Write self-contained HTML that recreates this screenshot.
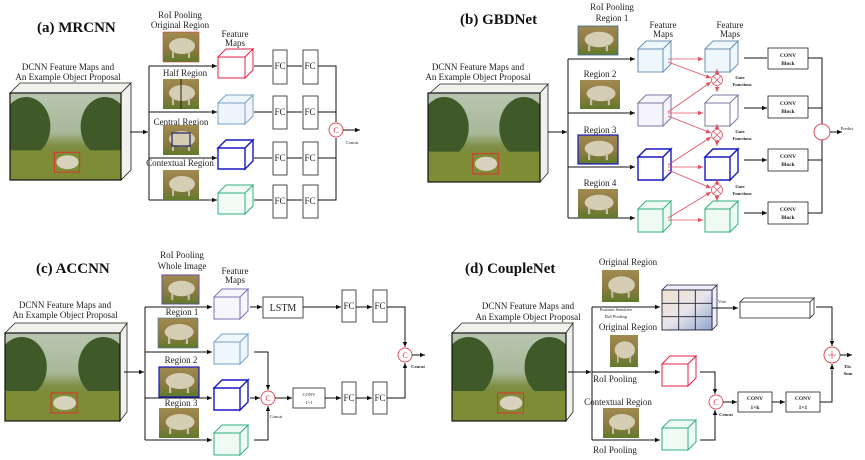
<!DOCTYPE html>
<html><head><meta charset="utf-8"><style>
html,body{margin:0;padding:0;background:#fff;}
svg{display:block;font-family:"Liberation Serif",serif;}
.t{font-size:9px;fill:#222;text-anchor:middle}
.h{font-size:15px;font-weight:bold;fill:#111}
.s{font-size:4.5px;fill:#222;text-anchor:middle}
.b{font-size:5.5px;font-weight:bold;fill:#222;text-anchor:middle}
.l{stroke:#111;stroke-width:1;fill:none}
.r{stroke:#e05060;stroke-width:1;fill:none}
.fc{fill:#fff;stroke:#222;stroke-width:0.8}
</style></head><body>
<svg width="865" height="460" viewBox="0 0 865 460" xmlns="http://www.w3.org/2000/svg">
<defs>
<marker id="a" markerWidth="6" markerHeight="6" refX="5" refY="3" orient="auto" markerUnits="userSpaceOnUse"><path d="M0,0.8 L5,3 L0,5.2Z" fill="#111"/></marker>
<marker id="ar" markerWidth="6" markerHeight="6" refX="5" refY="3" orient="auto" markerUnits="userSpaceOnUse"><path d="M0,0.8 L5,3 L0,5.2Z" fill="#e05060"/></marker>
<linearGradient id="sky" x1="0" y1="0" x2="0" y2="1"><stop offset="0" stop-color="#b9c6b0"/><stop offset="0.45" stop-color="#a8b89a"/><stop offset="0.6" stop-color="#7f8f45"/><stop offset="1" stop-color="#6e7a30"/></linearGradient>
<linearGradient id="ph" x1="0" y1="0" x2="0" y2="1"><stop offset="0" stop-color="#a08a50"/><stop offset="0.6" stop-color="#8a7a40"/><stop offset="1" stop-color="#5e7a2a"/></linearGradient>
<symbol id="scene" viewBox="0 0 110 88" preserveAspectRatio="none">
<rect width="110" height="88" fill="url(#sky)"/>
<ellipse cx="16" cy="34" rx="24" ry="30" fill="#3f5a28"/>
<ellipse cx="94" cy="34" rx="24" ry="30" fill="#3f5a28"/>
<rect x="0" y="58" width="110" height="30" fill="#7d8c35"/>
<ellipse cx="57" cy="70" rx="11" ry="7" fill="#d8d2bf"/>
<rect x="44" y="60" width="25" height="20" fill="none" stroke="#e03030" stroke-width="1"/>
</symbol>
<symbol id="sh" viewBox="0 0 36 30" preserveAspectRatio="none">
<rect width="36" height="30" fill="url(#ph)"/>
<ellipse cx="19" cy="14" rx="13" ry="8" fill="#d6ceb4"/>
<rect x="9" y="19" width="2" height="7" fill="#c8c0a8"/><rect x="25" y="19" width="2" height="7" fill="#c8c0a8"/>
</symbol>
</defs>

<!-- ============ (a) MRCNN ============ -->
<text x="37" y="32" class="h">(a) MRCNN</text>
<text x="68" y="70" class="t">DCNN Feature Maps and</text>
<text x="68" y="80" class="t">An Example Object Proposal</text>
<path d="M10,93 L20,83 L131,83 L121,93Z M121,93 L131,83 L131,170 L121,180Z" fill="#f0f0ec" stroke="#222" stroke-width="0.8"/>
<use href="#scene" x="10" y="93" width="111" height="87"/>
<rect x="10" y="93" width="111" height="87" fill="none" stroke="#111" stroke-width="1.2"/>
<path class="l" d="M130,132 L148,132" marker-end="url(#a)"/>
<path class="l" d="M149,66 L149,200"/>
<path class="l" d="M149,66 L217,66" marker-end="url(#a)"/>
<path class="l" d="M149,112 L217,112" marker-end="url(#a)"/>
<path class="l" d="M149,158 L217,158" marker-end="url(#a)"/>
<path class="l" d="M149,200 L217,200" marker-end="url(#a)"/>
<text x="180" y="18" class="t">RoI Pooling</text>
<text x="180" y="28" class="t">Original Region</text>
<use href="#sh" x="163" y="32" width="36" height="30"/><rect x="163" y="32" width="36" height="30" fill="none" stroke="#c44" stroke-width="0.6"/>
<text x="185" y="76" class="t">Half Region</text>
<use href="#sh" x="163" y="79" width="36" height="30"/><line x1="181" y1="79" x2="181" y2="109" stroke="#222"/>
<text x="181" y="125" class="t">Central Region</text>
<use href="#sh" x="163" y="125" width="36" height="30"/><rect x="172" y="133" width="18" height="13" fill="none" stroke="#226" stroke-width="1.2"/>
<text x="180" y="166" class="t">Contextual Region</text>
<use href="#sh" x="163" y="170" width="36" height="30"/>
<text x="235" y="37" class="t">Feature</text><text x="235" y="46" class="t">Maps</text>
<g stroke-width="1">
<path d="M218,57 h27 v21 h-27Z M218,57 l8,-8 h27 l-8,8Z M245,57 l8,-8 v21 l-8,8Z" fill="#fff" stroke="#e02040"/>
<path d="M218,103 h27 v21 h-27Z M218,103 l8,-8 h27 l-8,8Z M245,103 l8,-8 v21 l-8,8Z" fill="#eef6fb" stroke="#7aa0c8"/>
<path d="M218,148 h27 v21 h-27Z M218,148 l8,-8 h27 l-8,8Z M245,148 l8,-8 v21 l-8,8Z" fill="#fff" stroke="#1818c0" stroke-width="1.4"/>
<path d="M218,193 h27 v21 h-27Z M218,193 l8,-8 h27 l-8,8Z M245,193 l8,-8 v21 l-8,8Z" fill="#f2fbf6" stroke="#30b080"/>
</g>
<g>
<rect class="fc" x="273" y="50" width="14" height="34"/><rect class="fc" x="303" y="50" width="15" height="34"/>
<rect class="fc" x="273" y="96" width="14" height="33"/><rect class="fc" x="303" y="96" width="15" height="33"/>
<rect class="fc" x="273" y="142" width="14" height="33"/><rect class="fc" x="303" y="142" width="15" height="33"/>
<rect class="fc" x="273" y="185" width="14" height="33"/><rect class="fc" x="303" y="185" width="15" height="33"/>
<text x="280" y="69" class="t">FC</text><text x="310" y="69" class="t">FC</text>
<text x="280" y="115" class="t">FC</text><text x="310" y="115" class="t">FC</text>
<text x="280" y="161" class="t">FC</text><text x="310" y="161" class="t">FC</text>
<text x="280" y="204" class="t">FC</text><text x="310" y="204" class="t">FC</text>
</g>
<path class="l" d="M254,66 L272,66 M287,66 L302,66 M254,112 L272,112 M287,112 L302,112 M254,158 L272,158 M287,158 L302,158 M254,200 L272,200 M287,200 L302,200"/>
<path class="l" d="M318,66 H336 V122 M318,112 H336 M318,158 H336 V138 M318,200 H336 V138" />
<circle cx="336" cy="130" r="7" fill="#fff" stroke="#e05060"/><text x="336" y="133" class="t" style="font-size:8px;fill:#d03040">C</text>
<path class="l" d="M343,130 L360,130" marker-end="url(#a)"/>
<text x="352" y="144" class="s">Concat</text>

<!-- ============ (b) GBDNet ============ -->
<text x="460" y="24" class="h">(b) GBDNet</text>
<text x="478" y="70" class="t">DCNN Feature Maps and</text>
<text x="478" y="80" class="t">An Example Object Proposal</text>
<path d="M430,93 L440,84 L548,84 L540,93Z M540,93 L548,84 L548,173 L540,182Z" fill="#f0f0ec" stroke="#222" stroke-width="0.8"/>
<use href="#scene" x="428" y="93" width="112" height="89"/>
<rect x="428" y="93" width="112" height="89" fill="none" stroke="#111" stroke-width="1.2"/>
<path class="l" d="M548,132 L567,132" marker-end="url(#a)"/>
<path class="l" d="M568,59 L568,218"/>
<path class="l" d="M568,59 L635,59" marker-end="url(#a)"/>
<path class="l" d="M568,113 L635,113" marker-end="url(#a)"/>
<path class="l" d="M568,167 L635,167" marker-end="url(#a)"/>
<path class="l" d="M568,218 L635,218" marker-end="url(#a)"/>
<text x="612" y="10" class="t">RoI Pooling</text>
<text x="612" y="21" class="t">Region 1</text>
<use href="#sh" x="578" y="26" width="40" height="29"/><rect x="578" y="26" width="40" height="29" fill="none" stroke="#3a6a9a" stroke-width="0.8"/>
<text x="600" y="77" class="t">Region 2</text>
<use href="#sh" x="580" y="80" width="40" height="29"/>
<text x="600" y="133" class="t">Region 3</text>
<use href="#sh" x="578" y="135" width="40" height="29"/><rect x="578" y="135" width="40" height="29" fill="none" stroke="#1818c0" stroke-width="1.2"/>
<text x="600" y="186" class="t">Region 4</text>
<use href="#sh" x="578" y="189" width="40" height="29"/>
<text x="663" y="28" class="t">Feature</text><text x="663" y="37" class="t">Maps</text>
<text x="730" y="28" class="t">Feature</text><text x="730" y="37" class="t">Maps</text>
<g>
<path d="M638,49 h25 v23 h-25Z M638,49 l8,-8 h25 l-8,8Z M663,49 l8,-8 v23 l-8,8Z" fill="#eef7fb" stroke="#6a90b0"/>
<path d="M638,103 h25 v23 h-25Z M638,103 l8,-8 h25 l-8,8Z M663,103 l8,-8 v23 l-8,8Z" fill="#f6f4fb" stroke="#7a7aa0"/>
<path d="M638,157 h25 v23 h-25Z M638,157 l8,-8 h25 l-8,8Z M663,157 l8,-8 v23 l-8,8Z" fill="#fff" stroke="#1818c0" stroke-width="1.4"/>
<path d="M638,209 h25 v23 h-25Z M638,209 l8,-8 h25 l-8,8Z M663,209 l8,-8 v23 l-8,8Z" fill="#f0faf4" stroke="#30b080"/>
<path d="M705,49 h25 v23 h-25Z M705,49 l8,-8 h25 l-8,8Z M730,49 l8,-8 v23 l-8,8Z" fill="#eef7fb" stroke="#6a90b0"/>
<path d="M705,103 h25 v23 h-25Z M705,103 l8,-8 h25 l-8,8Z M730,103 l8,-8 v23 l-8,8Z" fill="#fff" stroke="#7a7aa0"/>
<path d="M705,157 h25 v23 h-25Z M705,157 l8,-8 h25 l-8,8Z M730,157 l8,-8 v23 l-8,8Z" fill="#fff" stroke="#1818c0" stroke-width="1.4"/>
<path d="M705,209 h25 v23 h-25Z M705,209 l8,-8 h25 l-8,8Z M730,209 l8,-8 v23 l-8,8Z" fill="#f0faf4" stroke="#30b080"/>
</g>
<g stroke="#e05060" stroke-width="0.8" fill="none">
<path d="M668,59 L703,59" marker-end="url(#ar)"/><path d="M668,113 L703,113" marker-end="url(#ar)"/>
<path d="M668,167 L703,167" marker-end="url(#ar)"/><path d="M668,220 L703,220" marker-end="url(#ar)"/>
<path d="M668,62 L711,78" marker-end="url(#ar)"/><path d="M668,112 L711,82" marker-end="url(#ar)"/>
<path d="M668,116 L711,133" marker-end="url(#ar)"/><path d="M668,165 L711,137" marker-end="url(#ar)"/>
<path d="M668,170 L711,188" marker-end="url(#ar)"/><path d="M668,218 L711,192" marker-end="url(#ar)"/>
<path d="M717,74 L717,69" marker-end="url(#ar)"/><path d="M717,86 L717,92" marker-end="url(#ar)"/>
<path d="M717,129 L717,124" marker-end="url(#ar)"/><path d="M717,141 L717,146" marker-end="url(#ar)"/>
<path d="M717,184 L717,179" marker-end="url(#ar)"/><path d="M717,196 L717,201" marker-end="url(#ar)"/>
</g>
<g fill="#fff" stroke="#e05060" stroke-width="0.8">
<circle cx="717" cy="80" r="5.5"/><circle cx="717" cy="135" r="5.5"/><circle cx="717" cy="190" r="5.5"/>
</g>
<g stroke="#e05060" stroke-width="0.8">
<path d="M713,76 L721,84 M721,76 L713,84"/><path d="M713,131 L721,139 M721,131 L713,139"/><path d="M713,186 L721,194 M721,186 L713,194"/>
</g>
<text x="740" y="79" class="s" style="font-weight:bold">Gate</text><text x="742" y="86" class="s" style="font-weight:bold">Functions</text>
<text x="740" y="133" class="s" style="font-weight:bold">Gate</text><text x="742" y="140" class="s" style="font-weight:bold">Functions</text>
<text x="740" y="188" class="s" style="font-weight:bold">Gate</text><text x="742" y="195" class="s" style="font-weight:bold">Functions</text>
<g>
<rect class="fc" x="768" y="48" width="40" height="21"/><rect class="fc" x="768" y="96" width="40" height="22"/>
<rect class="fc" x="768" y="149" width="40" height="22"/><rect class="fc" x="768" y="202" width="40" height="22"/>
<text x="788" y="57" class="b">CONV</text><text x="788" y="65" class="b">Block</text>
<text x="788" y="105" class="b">CONV</text><text x="788" y="113" class="b">Block</text>
<text x="788" y="158" class="b">CONV</text><text x="788" y="166" class="b">Block</text>
<text x="788" y="211" class="b">CONV</text><text x="788" y="219" class="b">Block</text>
</g>
<path class="l" d="M744,58 L767,58 M744,108 L767,108 M744,160 L767,160 M744,213 L767,213" marker-end="url(#a)"/>
<path class="l" d="M744,108 L767,108" marker-end="url(#a)"/><path class="l" d="M744,160 L767,160" marker-end="url(#a)"/><path class="l" d="M744,213 L767,213" marker-end="url(#a)"/>
<path class="l" d="M808,58 H822 V124 M808,108 H822 M808,160 H822 V140 M808,213 H822 V140"/>
<circle cx="822" cy="132" r="8" fill="#fff" stroke="#e05060"/>
<path class="l" d="M830,132 L842,132" marker-end="url(#a)"/>
<text x="847" y="130" class="s">Predict</text>

<!-- ============ (c) ACCNN ============ -->
<text x="36" y="273" class="h">(c) ACCNN</text>
<text x="65" y="308" class="t">DCNN Feature Maps and</text>
<text x="65" y="318" class="t">An Example Object Proposal</text>
<path d="M5,333 L15,323 L127,323 L120,333Z M120,333 L127,323 L127,412 L120,421Z" fill="#f0f0ec" stroke="#222" stroke-width="0.8"/>
<use href="#scene" x="5" y="333" width="115" height="88"/>
<rect x="5" y="333" width="115" height="88" fill="none" stroke="#111" stroke-width="1.2"/>
<path class="l" d="M124,372 L144,372" marker-end="url(#a)"/>
<path class="l" d="M145,307 L145,440"/>
<path class="l" d="M145,307 L212,307" marker-end="url(#a)"/>
<path class="l" d="M145,352 L212,352" marker-end="url(#a)"/>
<path class="l" d="M145,398 L212,398" marker-end="url(#a)"/>
<path class="l" d="M145,440 L212,440" marker-end="url(#a)"/>
<text x="182" y="258" class="t">RoI Pooling</text>
<text x="182" y="269" class="t">Whole Image</text>
<use href="#sh" x="162" y="275" width="37" height="29"/><rect x="162" y="275" width="37" height="29" fill="none" stroke="#6a4aa0" stroke-width="1"/>
<text x="182" y="315" class="t">Region 1</text>
<use href="#sh" x="158" y="318" width="40" height="30"/><rect x="158" y="318" width="40" height="30" fill="none" stroke="#4a6aa0" stroke-width="0.6"/>
<text x="181" y="363" class="t">Region 2</text>
<use href="#sh" x="159" y="367" width="40" height="30"/><rect x="159" y="367" width="40" height="30" fill="none" stroke="#1818c0" stroke-width="1.2"/>
<text x="181" y="406" class="t">Region 3</text>
<use href="#sh" x="159" y="408" width="40" height="30"/>
<text x="235" y="274" class="t">Feature</text><text x="235" y="283" class="t">Maps</text>
<g>
<path d="M214,297 h26 v22 h-26Z M214,297 l8,-8 h26 l-8,8Z M240,297 l8,-8 v22 l-8,8Z" fill="#f8f6fd" stroke="#8070b8"/>
<path d="M214,342 h26 v22 h-26Z M214,342 l8,-8 h26 l-8,8Z M240,342 l8,-8 v22 l-8,8Z" fill="#eef7fb" stroke="#7aa0c8"/>
<path d="M214,388 h26 v22 h-26Z M214,388 l8,-8 h26 l-8,8Z M240,388 l8,-8 v22 l-8,8Z" fill="#fff" stroke="#1818c0" stroke-width="1.4"/>
<path d="M214,433 h26 v22 h-26Z M214,433 l8,-8 h26 l-8,8Z M240,433 l8,-8 v22 l-8,8Z" fill="#f0faf4" stroke="#30b080"/>
</g>
<rect class="fc" x="263" y="297" width="40" height="21"/><text x="283" y="311" class="t" style="font-size:10px">LSTM</text>
<path class="l" d="M250,307 L262,307" marker-end="url(#a)"/>
<path class="l" d="M303,307 L341,307" marker-end="url(#a)"/>
<rect class="fc" x="342" y="290" width="14" height="32"/><rect class="fc" x="373" y="290" width="14" height="32"/>
<text x="349" y="309" class="t">FC</text><text x="380" y="309" class="t">FC</text>
<path class="l" d="M356,307 L372,307" marker-end="url(#a)"/>
<path class="l" d="M387,307 H405 V347" marker-end="url(#a)"/>
<rect class="fc" x="342" y="382" width="14" height="32"/><rect class="fc" x="373" y="382" width="14" height="32"/>
<text x="349" y="401" class="t">FC</text><text x="380" y="401" class="t">FC</text>
<path class="l" d="M356,398 L372,398" marker-end="url(#a)"/>
<path class="l" d="M387,398 H405 V363" marker-end="url(#a)"/>
<circle cx="405" cy="355" r="7" fill="#fff" stroke="#e05060"/><text x="405" y="358" class="t" style="font-size:8px;fill:#d03040">C</text>
<path class="l" d="M412,355 L425,355" marker-end="url(#a)"/>
<text x="418" y="368" class="s" style="font-weight:bold">Concat</text>
<path class="l" d="M254,352 H268 V390" marker-end="url(#a)"/>
<path class="l" d="M254,440 H268 V406" marker-end="url(#a)"/>
<path class="l" d="M250,398 L260,398" marker-end="url(#a)"/>
<circle cx="268" cy="398" r="7" fill="#fff" stroke="#e05060"/><text x="268" y="401" class="t" style="font-size:8px;fill:#d03040">C</text>
<text x="276" y="418" class="s">Concat</text>
<path class="l" d="M275,398 L292,398" marker-end="url(#a)"/>
<rect class="fc" x="293" y="388" width="32" height="20"/><text x="309" y="396" class="s">CONV</text><text x="309" y="404" class="s">1×1</text>
<path class="l" d="M325,398 L341,398" marker-end="url(#a)"/>

<!-- ============ (d) CoupleNet ============ -->
<text x="465" y="273" class="h">(d) CoupleNet</text>
<text x="528" y="309" class="t">DCNN Feature Maps and</text>
<text x="528" y="320" class="t">An Example Object Proposal</text>
<path d="M452,333 L462,323 L573,323 L566,333Z M566,333 L573,323 L573,412 L566,421Z" fill="#f0f0ec" stroke="#222" stroke-width="0.8"/>
<use href="#scene" x="452" y="333" width="114" height="88"/>
<rect x="452" y="333" width="114" height="88" fill="none" stroke="#111" stroke-width="1.2"/>
<path class="l" d="M568,372 L591,372" marker-end="url(#a)"/>
<path class="l" d="M592,307 L592,440"/>
<path class="l" d="M592,307 L660,307" marker-end="url(#a)"/>
<path class="l" d="M592,372 L660,372" marker-end="url(#a)"/>
<path class="l" d="M592,440 L660,440" marker-end="url(#a)"/>
<text x="628" y="265" class="t">Original Region</text>
<use href="#sh" x="602" y="270" width="37" height="32"/>
<text x="616" y="311" class="s">Position Sensitive</text><text x="616" y="318" class="s">RoI Pooling</text>
<text x="628" y="330" class="t">Original Region</text>
<use href="#sh" x="610" y="335" width="28" height="32"/>
<text x="615" y="382" class="t">RoI Pooling</text>
<text x="618" y="405" class="t">Contextual Region</text>
<use href="#sh" x="603" y="408" width="36" height="30"/>
<text x="615" y="453" class="t">RoI Pooling</text>
<!-- grid -->
<defs><linearGradient id="gr" x1="0" y1="0" x2="1" y2="1"><stop offset="0" stop-color="#f2e2cc"/><stop offset="0.5" stop-color="#e8e4ec"/><stop offset="1" stop-color="#8ea6cc"/></linearGradient></defs>
<path d="M662,290 l5,-5 h50 l-5,5Z M712,290 l5,-5 v40 l-5,5Z" fill="#eef" stroke="#223" stroke-width="0.8"/>
<rect x="662" y="290" width="50" height="40" fill="url(#gr)" stroke="#223" stroke-width="0.9"/>
<path d="M678.7,290 V330 M695.3,290 V330 M662,303.3 H712 M662,316.7 H712" stroke="#223" stroke-width="0.9"/>
<path class="l" d="M712,308 L738,308" marker-end="url(#a)"/>
<text x="722" y="303" class="s">Vote</text>
<path d="M740,302 h70 v16 h-70Z M810,302 l4,-4 v16 l-4,4Z M740,302 l4,-4 h70 l-4,4Z" fill="#fff" stroke="#222" stroke-width="0.8"/>
<path class="l" d="M816,307 H832 V346" marker-end="url(#a)"/>
<circle cx="832" cy="355" r="8" fill="#fff" stroke="#e05060"/><path d="M828,355 H836 M832,351 V359" stroke="#e05060" stroke-width="0.8"/>
<path class="l" d="M840,355 L852,355" marker-end="url(#a)"/>
<text x="848" y="368" class="s" style="font-weight:bold">Ele.</text><text x="848" y="375" class="s" style="font-weight:bold">Sum</text>
<path d="M662,364 h26 v22 h-26Z M662,364 l8,-8 h26 l-8,8Z M688,364 l8,-8 v22 l-8,8Z" fill="#fff" stroke="#e02040"/>
<path d="M662,428 h26 v22 h-26Z M662,428 l8,-8 h26 l-8,8Z M688,428 l8,-8 v22 l-8,8Z" fill="#f0faf4" stroke="#30b080"/>
<path class="l" d="M700,372 H715 V394" marker-end="url(#a)"/>
<path class="l" d="M700,440 H715 V410" marker-end="url(#a)"/>
<circle cx="716" cy="402" r="7" fill="#fff" stroke="#e05060"/><text x="716" y="405" class="t" style="font-size:8px;fill:#d03040">C</text>
<text x="726" y="416" class="s" style="font-weight:bold">Concat</text>
<path class="l" d="M723,402 L737,402" marker-end="url(#a)"/>
<rect class="fc" x="738" y="392" width="34" height="20"/><text x="755" y="400" class="b">CONV</text><text x="755" y="409" class="b">1×k</text>
<path class="l" d="M772,402 L785,402" marker-end="url(#a)"/>
<rect class="fc" x="786" y="392" width="34" height="20"/><text x="803" y="400" class="b">CONV</text><text x="803" y="409" class="b">1×1</text>
<path class="l" d="M820,402 H832 V364" marker-end="url(#a)"/>
</svg>
</body></html>
